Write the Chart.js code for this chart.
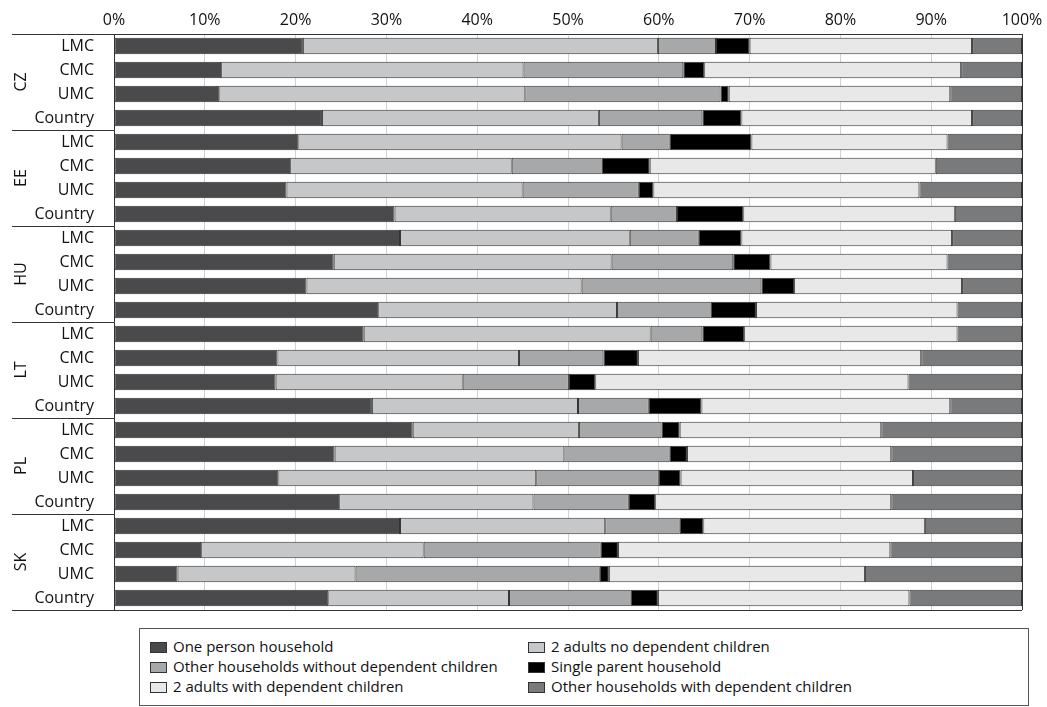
<!DOCTYPE html>
<html>
<head>
<meta charset="utf-8">
<script src="https://cdn.jsdelivr.net/npm/chart.js@4.4.1/dist/chart.umd.min.js"></script>
<style>
    body { margin: 0; background: #fff; font-family: "Open Sans", sans-serif; }
    #wrap { position: relative; width: 1047px; height: 707px; overflow: hidden; }
    #chartBox { position: absolute; left: 0; top: 0; width: 1047px; height: 620px; }
    #legend {
        position: absolute; left: 139px; top: 628px; width: 890px; height: 78px;
        border: 1px solid #555; box-sizing: border-box;
    }
    .item { position: absolute; height: 20px; line-height: 20px; font-size: 15px; color: #111; white-space: nowrap; }
    .item i { display: inline-block; width: 15px; height: 9px; border: 1px solid #333; vertical-align: -1px; margin-right: 6px; }
</style>
</head>
<body>
<div id="wrap">
    <div id="chartBox"><canvas id="chart"></canvas></div>
    <div id="legend"></div>
</div>
<script>
// --- Data (shares in %) ---
const countries = ['CZ', 'EE', 'HU', 'LT', 'PL', 'SK'];
const classes = ['LMC', 'CMC', 'UMC', 'Country'];
const xTicks = [0, 10, 20, 30, 40, 50, 60, 70, 80, 90, 100];

const onePerson =             [20.8, 11.8, 11.6, 22.9, 20.3, 19.4, 19.0, 30.9, 31.5, 24.2, 21.2, 29.1, 27.5, 18.0, 17.8, 28.4, 32.9, 24.3, 18.1, 24.8, 31.5, 9.6, 7.0, 23.6];
const twoAdultsNoChildren =   [39.1, 33.3, 33.7, 30.5, 35.6, 24.4, 26.0, 23.8, 25.3, 30.6, 30.3, 26.3, 31.6, 26.6, 20.6, 22.7, 18.3, 25.3, 28.4, 21.4, 22.6, 24.5, 19.6, 19.9];
const otherNoChildren =       [6.4, 17.6, 21.5, 11.4, 5.3, 9.9, 12.8, 7.3, 7.6, 13.4, 19.8, 10.3, 5.7, 9.3, 11.7, 7.8, 9.1, 11.6, 13.5, 10.5, 8.2, 19.5, 26.9, 13.4];
const singleParent =          [3.7, 2.3, 0.9, 4.3, 9.0, 5.3, 1.6, 7.3, 4.7, 4.1, 3.6, 5.0, 4.6, 3.8, 2.9, 5.8, 2.0, 1.9, 2.4, 2.9, 2.6, 1.9, 1.0, 3.0];
const twoAdultsWithChildren = [24.5, 28.3, 24.4, 25.4, 21.6, 31.5, 29.3, 23.3, 23.2, 19.5, 18.5, 22.2, 23.5, 31.2, 34.5, 27.4, 22.2, 22.5, 25.6, 26.0, 24.4, 30.0, 28.2, 27.7];
const otherWithChildren =     [5.5, 6.7, 7.9, 5.5, 8.2, 9.5, 11.3, 7.4, 7.7, 8.2, 6.6, 7.1, 7.1, 11.1, 12.5, 7.9, 15.5, 14.4, 12.0, 14.4, 10.7, 14.5, 17.3, 12.4];

const seriesNames = [
    'One person household',
    '2 adults no dependent children',
    'Other households without dependent children',
    'Single parent household',
    '2 adults with dependent children',
    'Other households with dependent children'
];
const seriesValues = [onePerson, twoAdultsNoChildren, otherNoChildren, singleParent, twoAdultsWithChildren, otherWithChildren];
const seriesColors = ['#4a4a4c', '#c6c7c9', '#a7a8aa', '#000000', '#e8e8e8', '#797a7c'];

const labels = [];
countries.forEach(() => classes.forEach(c => labels.push(c)));

const FONT = '"Open Sans", sans-serif';
const LINE = '#333';

// group labels + separator lines on the left
const groupPlugin = {
    id: 'groups',
    afterDraw(chart) {
        const { ctx, chartArea, scales: { y } } = chart;
        const n = classes.length;
        ctx.save();
        ctx.strokeStyle = LINE;
        ctx.lineWidth = 1;
        ctx.beginPath();
        ctx.moveTo(12, chartArea.top + 0.5);
        ctx.lineTo(chartArea.left, chartArea.top + 0.5);
        ctx.moveTo(12, chartArea.bottom + 0.5);
        ctx.lineTo(chartArea.right, chartArea.bottom + 0.5);
        for (let g = 1; g < countries.length; g++) {
            const yy = Math.round((y.getPixelForValue(g * n - 1) + y.getPixelForValue(g * n)) / 2) + 0.5;
            ctx.moveTo(12, yy);
            ctx.lineTo(chartArea.left, yy);
        }
        ctx.stroke();

        ctx.fillStyle = '#111';
        ctx.font = '16px ' + FONT;
        ctx.textAlign = 'center';
        ctx.textBaseline = 'middle';
        countries.forEach((c, g) => {
            const cy = (y.getPixelForValue(g * n) + y.getPixelForValue(g * n + n - 1)) / 2;
            ctx.save();
            ctx.translate(21, cy);
            ctx.rotate(-Math.PI / 2);
            ctx.fillText(c, 0, 0);
            ctx.restore();
        });
        ctx.restore();
    }
};

const chart = new Chart(document.getElementById('chart'), {
    type: 'bar',
    data: {
        labels: labels,
        datasets: seriesNames.map((name, i) => ({
            label: name,
            data: seriesValues[i],
            backgroundColor: seriesColors[i],
            borderColor: LINE,
            borderWidth: 1,
            borderSkipped: false,
            barPercentage: 0.68,
            categoryPercentage: 1.0
        }))
    },
    options: {
        indexAxis: 'y',
        responsive: true,
        maintainAspectRatio: false,
        animation: false,
        layout: { padding: { left: 0, right: 25, top: 0, bottom: 10 } },
        plugins: {
            legend: { display: false },
            tooltip: { enabled: false }
        },
        scales: {
            x: {
                position: 'top',
                stacked: true,
                min: 0,
                max: 100,
                afterBuildTicks: scale => { scale.ticks = xTicks.map(v => ({ value: v })); },
                afterFit: scale => { scale.height = 34; },
                ticks: {
                    color: '#111',
                    font: { family: FONT, size: 16 },
                    padding: 4,
                    callback: v => v + '%'
                },
                grid: {
                    drawTicks: false,
                    color: ctx => ctx.tick && ctx.tick.value === 100 ? LINE : '#d2d2d2',
                    lineWidth: 1
                },
                border: { display: true, color: LINE }
            },
            y: {
                stacked: true,
                afterFit: scale => {
                    scale.width = 114;
                    // labels padding should not eat the plot height
                    scale.paddingTop = 0;
                    scale.paddingBottom = 0;
                },
                ticks: {
                    color: '#111',
                    font: { family: FONT, size: 16 },
                    padding: 20,
                    autoSkip: false
                },
                grid: { display: false, drawTicks: false },
                border: { display: true, color: LINE }
            }
        }
    },
    plugins: [groupPlugin]
});

// --- Legend: two columns, row by row ---
const legend = document.getElementById('legend');
chart.data.datasets.forEach((ds, i) => {
    const el = document.createElement('div');
    el.className = 'item';
    el.style.left = (i % 2 === 0 ? 10 : 388) + 'px';
    el.style.top = (7 + Math.floor(i / 2) * 20) + 'px';
    el.innerHTML = `<i style="background:${ds.backgroundColor}"></i>${ds.label}`;
    legend.appendChild(el);
});
</script>
</body>
</html>
